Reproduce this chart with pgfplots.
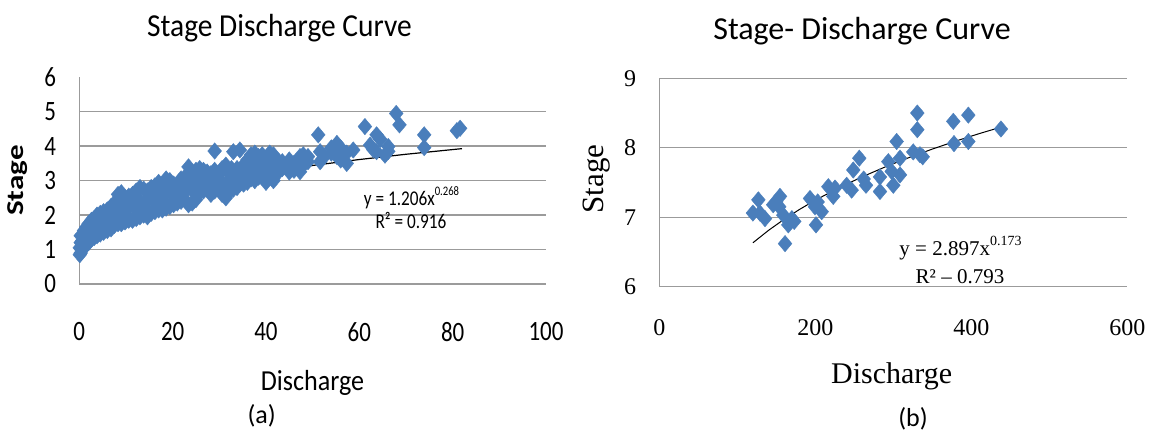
\documentclass[border=0pt]{standalone}
\usepackage{fontspec}
\usepackage{pgfplots}
\pgfplotsset{compat=1.18}
\setmainfont{Liberation Serif}
\newfontfamily\calnat{Carlito}
\newfontfamily\calti{Carlito}[FakeStretch=0.92]
\newfontfamily\calmid{Carlito}[FakeStretch=0.9]
\newfontfamily\calnar{Carlito}[FakeStretch=0.82]
\definecolor{ptblue}{RGB}{74,126,187}
\definecolor{gridgray}{RGB}{155,155,155}
\newcommand{\fs}[1]{\fontsize{#1}{#1}\selectfont}

\pgfplotsset{
  sdc/.style={
    scale only axis, anchor=south west, clip=false,
    axis lines=left,
    axis line style={-, draw=gridgray, line width=1.4pt},
    major tick length=0pt,
    ymajorgrids, grid style={draw=gridgray, line width=1.4pt},
    /pgf/number format/assume math mode=true,
    yticklabel style={anchor=east, inner sep=0pt},
    xticklabel style={anchor=north, inner sep=0pt},
  },
  pts/.style={only marks, mark=diamond*, mark size=8.2pt,
    mark options={xscale=1.12, fill=ptblue, draw=ptblue, line width=0.4pt}},
  fit/.style={black, line width=1.2pt, no marks},
}

\begin{document}
\begin{tikzpicture}[x=1pt,y=1pt]
\path[use as bounding box] (0,0) rectangle (1149,433);

% ---------------- (a) ----------------
\begin{axis}[sdc,
  at={(79.3pt,149pt)}, width=466.7pt, height=206.7pt,
  xmin=0, xmax=100, ymin=0, ymax=6,
  xtick={0,20,...,100}, ytick={0,...,5},
  extra y ticks={6}, extra y tick style={grid=none},
  ticklabel style={font=\calnar\fs{28}},
  yticklabel style={xshift=-23pt},
  xticklabel style={yshift=-38pt},
]
\addplot[pts] table {
x y
0.1 0.85
0.1 1.05
0.3 0.9
0.3 1.2
0.3 1.4
0.6 1.0
0.6 1.25
1.0 1.05
1.0 1.35
1.0 1.55
1.5 1.15
1.5 1.45
1.5 1.65
2.0 1.2
2.0 1.5
2.0 1.75
2.6 1.3
2.6 1.6
2.6 1.85
3.2 1.35
3.2 1.65
3.2 1.9
3.8 1.4
3.8 1.7
3.8 2.0
4.5 1.45
4.5 1.8
4.5 2.05
5.2 1.5
5.2 1.85
5.2 2.1
6.0 1.55
6.0 1.9
6.0 2.15
6.8 1.6
6.8 1.95
6.8 2.25
7.5 1.7
7.5 2.0
7.5 2.35
8.3 1.75
8.3 2.1
8.3 2.6
9.0 1.75
9.0 2.15
9.0 2.45
9.0 2.65
9.8 1.8
9.8 2.2
9.8 2.5
10.2 2.0
10.6 1.85
10.6 2.25
10.6 2.55
11.4 1.85
11.4 2.3
11.4 2.6
12.2 1.9
12.2 2.35
12.2 2.7
12.6 2.1
13.0 1.95
13.0 2.4
13.0 2.8
13.8 2.0
13.8 2.35
13.8 2.75
14.2 2.2
14.6 1.95
14.6 2.45
14.6 2.7
15.4 2.05
15.4 2.5
15.4 2.8
16.2 2.1
16.2 2.55
16.2 2.85
16.6 2.3
17.0 2.15
17.0 2.6
17.0 2.95
17.8 2.15
17.8 2.5
17.8 2.9
18.2 2.4
18.6 2.2
18.6 2.65
18.6 3.05
19.4 2.25
19.4 2.7
19.4 3.0
20.2 2.3
20.2 2.6
20.2 2.9
20.6 2.45
20.6 2.8
21.0 2.35
21.0 2.75
21.8 2.4
21.8 2.8
21.8 3.05
22.2 2.6
22.6 2.45
22.6 2.75
22.6 3.1
23.4 2.3
23.4 2.85
23.4 3.4
24.2 2.35
24.2 2.9
24.2 3.2
24.6 2.65
24.6 3.1
25.0 2.45
25.0 3.0
25.0 3.3
25.8 2.65
25.8 2.95
25.8 3.35
26.2 2.85
26.6 2.7
26.6 3.05
26.6 3.3
27.4 2.75
27.4 3.1
27.4 3.25
28.2 2.6
28.2 2.9
28.2 3.2
28.6 2.75
28.6 3.05
29.0 2.7
29.0 3.0
29.0 3.3
29.0 3.86
29.8 2.8
29.8 3.15
30.2 3.0
30.6 2.6
30.6 2.85
30.6 3.35
31.4 2.5
31.4 2.9
31.4 3.45
31.8 2.75
32.2 2.7
32.2 3.0
32.2 3.2
32.6 3.35
33.0 2.75
33.0 3.05
33.0 3.84
33.8 2.8
33.8 3.1
33.8 3.35
34.0 3.0
34.4 2.9
34.4 3.89
35.2 2.9
35.2 3.2
35.2 3.45
35.6 3.1
36.0 2.95
36.0 3.3
36.0 3.6
36.4 3.5
36.8 3.05
36.8 3.4
36.8 3.75
37.2 3.25
37.6 3.0
37.6 3.5
37.6 3.8
38.4 3.1
38.4 3.45
38.4 3.7
38.8 3.3
39.2 3.15
39.2 3.55
39.2 3.75
40.0 2.95
40.0 3.35
40.0 3.65
40.4 3.2
40.8 3.1
40.8 3.45
40.8 3.8
41.6 3.0
41.6 3.3
41.6 3.75
42.0 3.45
42.4 3.2
42.4 3.6
43.5 3.35
43.5 3.55
44.0 3.45
45.0 3.25
45.0 3.6
46.0 3.3
46.0 3.5
46.5 3.4
47.3 3.26
47.3 3.7
48.0 3.45
48.0 3.75
49.0 3.55
49.0 3.7
51.2 4.33
51.6 3.55
51.6 3.84
52.5 3.7
54.0 3.8
54.0 3.95
55.2 3.7
55.2 4.08
56.0 3.6
56.0 3.95
57.3 3.5
57.3 3.8
58.7 3.89
61.2 4.57
62.3 4.03
63.0 3.9
63.7 3.84
63.7 4.33
64.5 4.2
65.5 3.74
66.2 3.85
66.2 3.99
67.9 4.95
68.6 4.62
73.9 3.96
73.9 4.33
80.9 4.45
81.6 4.52
};
% power trend line y = 1.206 x^0.268
\addplot[fit] coordinates {
(0.4,0.943) (0.7,1.096) (1,1.206) (1.5,1.344) (2,1.452) (3,1.619)
(4,1.749) (6,1.949) (8,2.105) (10,2.235) (14,2.446) (20,2.692)
(25,2.858) (30,3.001) (40,3.241) (50,3.441) (60,3.613) (70,3.766) (82,3.929)
};
\end{axis}

\node[anchor=base, font=\calti\fs{32}] at (279.5,396) {Stage Discharge Curve};
\node[rotate=90, yscale=0.78, font=\calnat\bfseries\fs{31}] at (17.5,252.5) {Stage};
\node[font=\calmid\fs{29}] at (312.5,50) {Discharge};
\node[font=\calnar\fs{21}] at (411.5,235) {y = 1.206x\raisebox{0.5em}{\fs{13}0.268}};
\node[font=\calnar\fs{21}] at (411,212.3) {R² = 0.916};
\node[font=\calnat\fs{26}] at (261.7,17) {(a)};

% ---------------- (b) ----------------
\begin{axis}[sdc,
  at={(659.3pt,146.3pt)}, width=468pt, height=208.4pt,
  xmin=0, xmax=600, ymin=6, ymax=9,
  xtick={0,200,400,600}, ytick={6,7,8,9},
  ticklabel style={font=\fs{24}},
  yticklabel style={xshift=-23pt},
  xticklabel style={yshift=-33pt},
]
\addplot[pts] table {
x y
120 7.06
127 7.25
129 7.06
135.5 6.98
146 7.18
150 7.22
154.7 7.30
153.8 7.15
159 7.03
161.2 6.62
165.4 6.89
170 6.98
173 6.94
193.2 7.27
199.6 7.15
200.9 6.89
203 7.22
208.2 7.08
216.7 7.44
223 7.30
225.3 7.42
240.2 7.46
246.6 7.39
248.7 7.68
256.4 7.85
262 7.55
265 7.46
282.9 7.58
282.9 7.37
293.6 7.80
297.9 7.66
300 7.46
304.3 8.09
308.6 7.85
308.6 7.61
325.6 7.94
330.8 8.50
330.8 8.26
334.2 7.90
337.7 7.87
376.9 8.38
377.8 8.06
396.2 8.47
396.2 8.09
438 8.27
};
% power trend line y = 2.897 x^0.173
\addplot[fit, line width=1pt] coordinates {
(120,6.632) (140,6.811) (160,6.970) (180,7.114) (200,7.245) (230,7.422)
(260,7.581) (290,7.726) (320,7.858) (350,7.981) (380,8.096) (410,8.203) (435,8.287)
};
\end{axis}

\node[anchor=base, font=\calnat\fs{32}] at (862,393) {Stage- Discharge Curve};
\node[rotate=90, font=\fs{31}] at (596.5,254) {Stage};
\node[font=\fs{30}] at (891.7,56.3) {Discharge};
\node[font=\fs{21}] at (960.5,185) {y = 2.897x\raisebox{0.5em}{\fs{14}0.173}};
\node[font=\fs{21}] at (960,156.3) {R² – 0.793};
\node[font=\calnat\fs{26}] at (913,14) {(b)};
\end{tikzpicture}
\end{document}
